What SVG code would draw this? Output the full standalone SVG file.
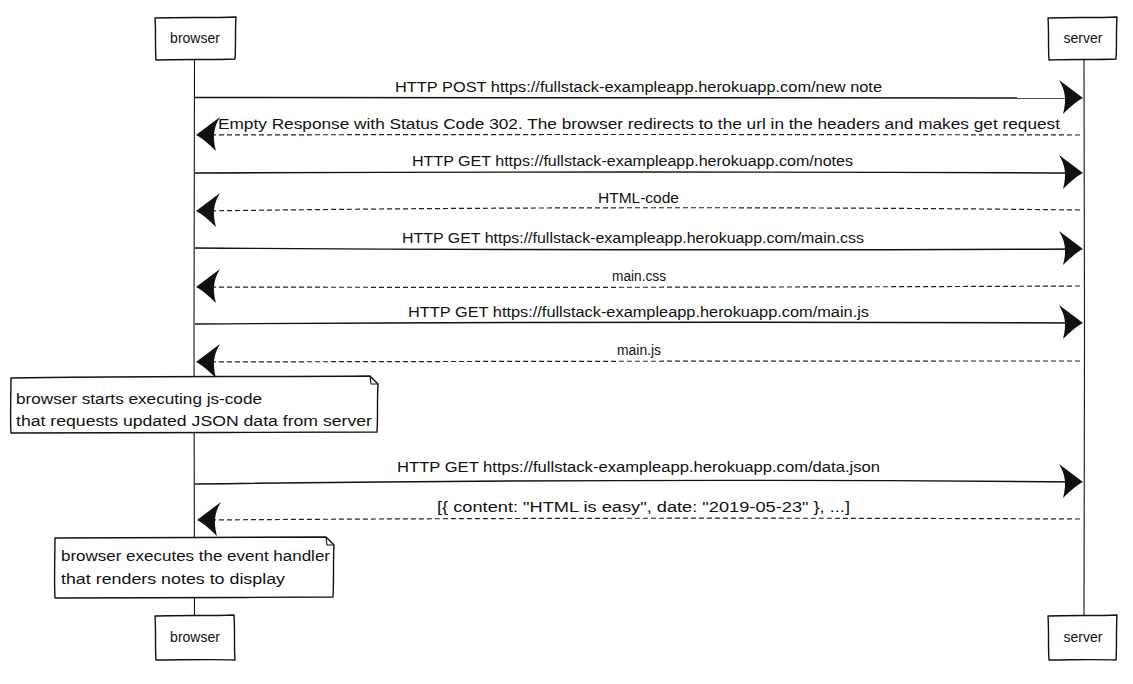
<svg xmlns="http://www.w3.org/2000/svg" width="1133" height="684" viewBox="0 0 1133 684">
<defs>
<style>
.box{fill:#fff;stroke:#111;stroke-width:1.4;stroke-linejoin:round}
.life{fill:none;stroke:#111;stroke-width:1.1}
.msg{fill:none;stroke:#111;stroke-width:1.4}
.ret{fill:none;stroke:#222;stroke-width:1.2;stroke-dasharray:5 3}
.t{font-family:"Liberation Sans",Arial,sans-serif;font-size:14px;fill:#111}
.c{text-anchor:middle}
</style>
<path id="hr" d="M0,0 C-8,-6 -16,-12 -24,-18 C-18,-8 -16,1 -20,16 C-13,9 -6,3 0,0 Z" fill="#111"/>
<path id="hl" d="M0,0 C8,-6 16,-12 24,-18 C18,-8 16,1 20,16 C13,9 6,3 0,0 Z" fill="#111"/>
</defs>
<rect width="1133" height="684" fill="#fff"/>

<g id="lifelines">
<path class="life" d="M194.5,59 L194,340 L194.5,615"/>
<path class="life" d="M1084,59 L1084.5,340 L1084,615"/>
</g>

<g id="browser-top">
<path class="box" d="M155,18 C180,17 210,18 236,17 C235,30 236,45 235,59 C210,60 180,59 156,60 C155,45 156,30 155,18 Z"/>
<text class="t c" x="195" y="43">browser</text>
</g>
<g id="server-top">
<path class="box" d="M1048,18 C1070,17 1095,18 1117,17 C1116,30 1117,45 1116,59 C1095,60 1070,59 1049,60 C1048,45 1049,30 1048,18 Z"/>
<text class="t c" x="1083" y="43">server</text>
</g>
<g id="browser-bottom">
<path class="box" d="M155,616 C180,615 210,616 234,615 C235,630 234,645 235,660 C210,659 180,660 156,660 C155,645 156,630 155,616 Z"/>
<text class="t c" x="195" y="642">browser</text>
</g>
<g id="server-bottom">
<path class="box" d="M1048,616 C1070,615 1095,616 1117,615 C1116,630 1117,645 1116,660 C1095,659 1070,660 1049,660 C1048,645 1049,630 1048,616 Z"/>
<text class="t c" x="1083" y="642">server</text>
</g>

<g id="connectors">
<path class="msg" d="M195,97.5 L1078,98"/>
<use href="#hr" x="1083" y="98"/>
<text class="t c" x="638.5" y="92" textLength="487" lengthAdjust="spacingAndGlyphs">HTTP POST https://fullstack-exampleapp.herokuapp.com/new note</text>

<path class="ret" d="M1080,135 Q640,134 200,135"/>
<use href="#hl" x="196" y="135"/>
<text class="t c" x="639" y="129" textLength="842" lengthAdjust="spacingAndGlyphs">Empty Response with Status Code 302. The browser redirects to the url in the headers and makes get request</text>

<path class="msg" d="M195,173 Q640,171 1078,173"/>
<use href="#hr" x="1083" y="173"/>
<text class="t c" x="632.5" y="166" textLength="441" lengthAdjust="spacingAndGlyphs">HTTP GET https://fullstack-exampleapp.herokuapp.com/notes</text>

<path class="ret" d="M1080,210 Q640,205 200,211"/>
<use href="#hl" x="196" y="211"/>
<text class="t c" x="638.5" y="203" textLength="81" lengthAdjust="spacingAndGlyphs">HTML-code</text>

<path class="msg" d="M195,248 Q640,251 1078,249"/>
<use href="#hr" x="1083" y="249"/>
<text class="t c" x="633" y="243" textLength="462" lengthAdjust="spacingAndGlyphs">HTTP GET https://fullstack-exampleapp.herokuapp.com/main.css</text>

<path class="ret" d="M1080,286 Q640,288 200,287"/>
<use href="#hl" x="196" y="287"/>
<text class="t c" x="639" y="281" textLength="54" lengthAdjust="spacingAndGlyphs">main.css</text>

<path class="msg" d="M195,324 Q640,321 1078,323"/>
<use href="#hr" x="1083" y="323"/>
<text class="t c" x="638.5" y="317" textLength="461" lengthAdjust="spacingAndGlyphs">HTTP GET https://fullstack-exampleapp.herokuapp.com/main.js</text>

<path class="ret" d="M1080,361 Q640,361 200,362"/>
<use href="#hl" x="196" y="362"/>
<text class="t c" x="639" y="355" textLength="44" lengthAdjust="spacingAndGlyphs">main.js</text>

<path class="msg" d="M195,484 Q640,478 1078,482"/>
<use href="#hr" x="1083" y="482"/>
<text class="t c" x="638.5" y="472" textLength="483" lengthAdjust="spacingAndGlyphs">HTTP GET https://fullstack-exampleapp.herokuapp.com/data.json</text>

<path class="ret" d="M1080,519 Q640,517 202,520"/>
<use href="#hl" x="197" y="520"/>
<text class="t c" x="643.5" y="512" textLength="413" lengthAdjust="spacingAndGlyphs">[{ content: "HTML is easy", date: "2019-05-23" }, ...]</text>
</g>

<g id="note-1">
<path class="box" d="M11,378 C120,376 250,377 370,376 L378,384 C377,400 378,418 377,432 C260,433 120,432 11,433 C10,415 11,395 11,378 Z"/>
<path class="life" d="M370,376 L371,384 L378,384"/>
<text class="t" x="16" y="404" textLength="246" lengthAdjust="spacingAndGlyphs">browser starts executing js-code</text>
<text class="t" x="16" y="426" textLength="356" lengthAdjust="spacingAndGlyphs">that requests updated JSON data from server</text>
</g>

<g id="note-2">
<path class="box" d="M55,538 C140,537 240,538 326,537 L334,545 C333,560 334,580 333,597 C240,598 140,597 55,598 C54,580 55,555 55,538 Z"/>
<path class="life" d="M326,537 L327,545 L334,545"/>
<text class="t" x="61" y="561" textLength="269" lengthAdjust="spacingAndGlyphs">browser executes the event handler</text>
<text class="t" x="61" y="584" textLength="224" lengthAdjust="spacingAndGlyphs">that renders notes to display</text>
</g>
</svg>
